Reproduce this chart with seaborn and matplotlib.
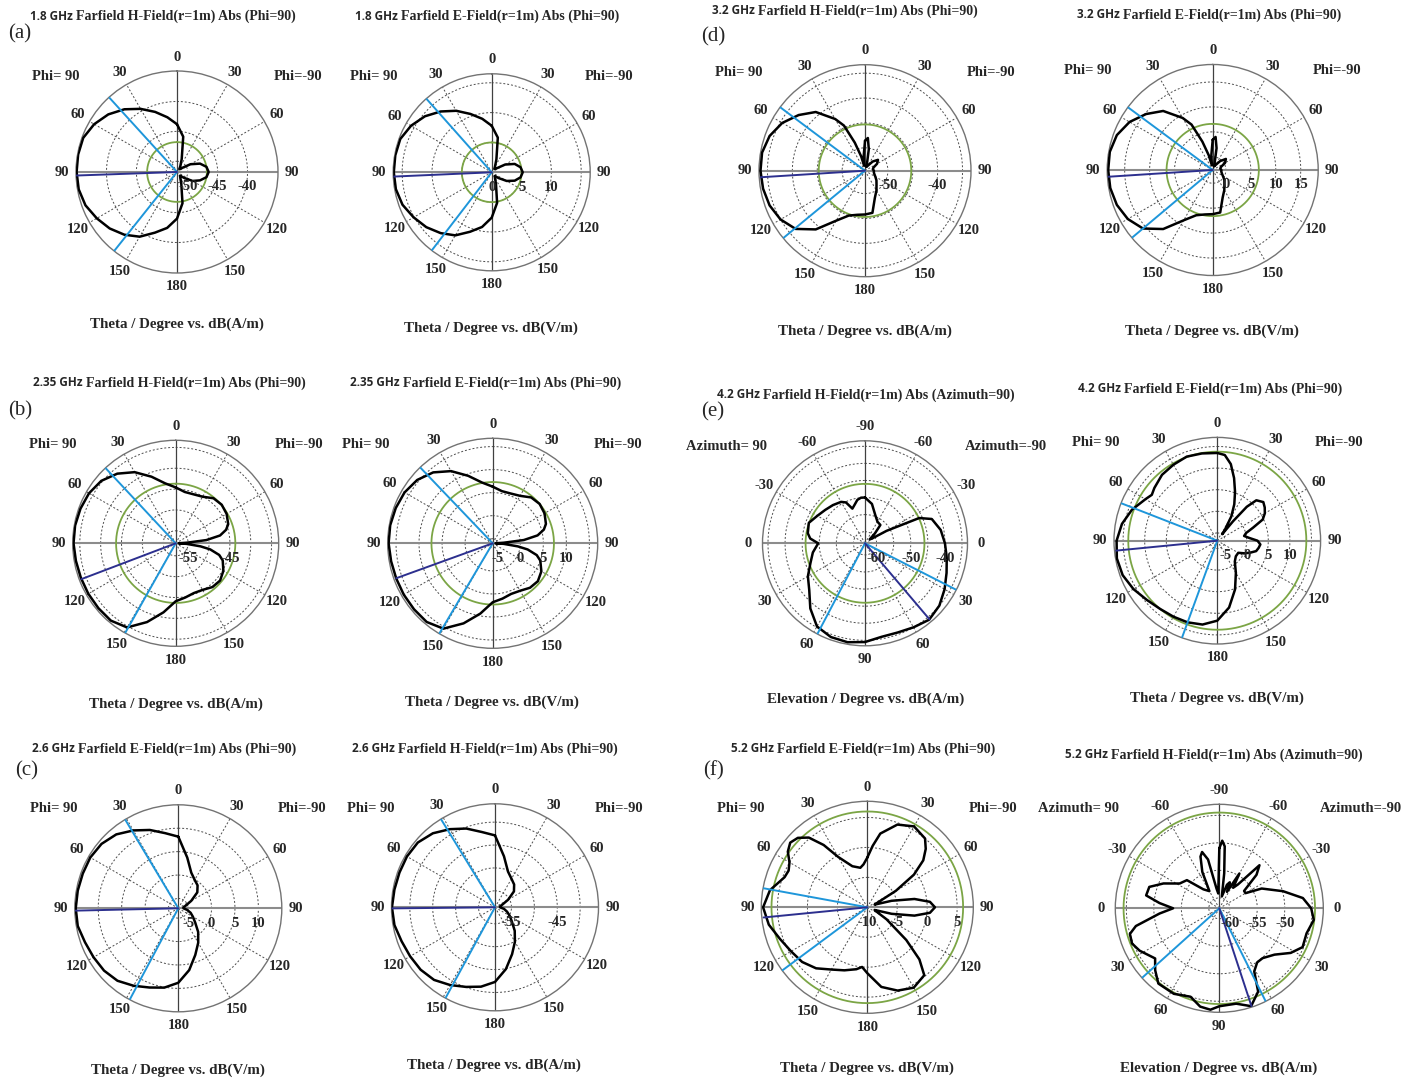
import numpy as np
import seaborn as sns
import pandas as pd
import matplotlib.pyplot as plt
from matplotlib.transforms import ScaledTranslation

sns.set_style("white")
plt.rcParams['font.family'] = ['Liberation Serif', 'DejaVu Serif']

W, H = 1418, 1081
fig = plt.figure(figsize=(W / 100, H / 100), dpi=100)

# ---- angle labels ----
theta_lab = ['0', '30', '60', '90', '120', '150', '180', '150', '120', '90', '60', '30']
elev_lab = ['-90', '-60', '-30', '0', '30', '60', '90', '60', '30', '0', '-30', '-60']

ang10 = list(range(0, 360, 10))

# ---- pattern data (angle clockwise from top in deg, value in dB) ----
db_a_h = [-43.8, -45.8, -49.5, -50.7, -51.2, -50.8, -49.2, -47.7, -46.8, -46.5, -46.8, -47.7,
          -48.8, -50.3, -51.0, -50.7, -49.7, -46.5, -44.0, -42.3, -41.0, -39.3, -38.1, -37.1,
          -36.3, -35.5, -35.1, -35.0, -35.0, -35.1, -35.8, -36.8, -38.1, -39.6, -41.1, -42.5]
db_a_e = [7.8, 5.9, 2.3, 1.1, 0.7, 1.0, 2.6, 4.1, 4.9, 5.2, 4.9, 4.1,
          2.9, 1.5, 0.8, 1.1, 2.1, 5.2, 7.6, 9.3, 10.6, 12.2, 13.3, 14.3,
          15.1, 15.9, 16.3, 16.4, 16.4, 16.3, 15.6, 14.6, 13.3, 11.9, 10.4, 9.1]

ang_b = [0, 10, 20, 30, 40, 50, 60, 70, 75, 80, 84, 87, 90, 93, 97, 100, 105, 110,
         120, 130, 140, 150, 160, 170, 180, 190, 200, 210, 220, 230, 240, 250, 260, 270,
         280, 290, 300, 310, 320, 330, 340, 350]
db_b_h = [-44.6, -45.5, -45.5, -45.1, -43.9, -43.6, -43.9, -44.6, -45.5, -47.2, -50.6, -55.4,
          -57.3, -55.4, -52.0, -49.6, -47.2, -46.0, -44.8, -44.1, -44.3, -45.1, -45.3, -44.8,
          -44.1, -41.2, -37.9, -34.7, -33.8, -33.8, -33.8, -33.8, -33.7, -33.5, -33.5, -33.7,
          -34.0, -34.7, -36.2, -38.3, -41.0, -43.4]
db_b_e = [6.3, 5.5, 5.5, 5.9, 7.0, 7.3, 7.0, 6.3, 5.5, 3.9, 0.8, -3.6,
          -5.4, -3.6, -0.5, 1.7, 3.9, 5.0, 6.2, 6.8, 6.6, 5.9, 5.7, 6.2,
          6.8, 9.5, 12.5, 15.4, 16.3, 16.3, 16.3, 16.3, 16.4, 16.6, 16.6, 16.4,
          16.1, 15.4, 14.1, 12.1, 9.6, 7.4]

db_c_e = [8.2, 3.9, 1.0, -0.1, -0.7, -1.8, -3.9, -5.4, -6.0, -6.0, -5.2, -4.3,
          -3.5, -2.4, -0.5, 1.4, 3.5, 6.3, 8.8, 10.1, 10.9, 12.0, 13.1, 13.6,
          13.8, 14.1, 14.7, 14.8, 14.7, 14.6, 14.6, 14.3, 13.5, 12.1, 10.7, 9.2]
db_c_h = [-42.9, -47.3, -50.3, -51.4, -52.1, -53.2, -55.3, -56.9, -57.5, -57.5, -56.6, -55.8,
          -54.9, -53.8, -51.9, -49.9, -47.7, -44.9, -42.3, -41.0, -40.1, -39.0, -37.9, -37.4,
          -37.2, -36.9, -36.3, -36.1, -36.3, -36.4, -36.4, -36.6, -37.5, -38.9, -40.3, -41.9]

ang_d = [0, 5, 10, 15, 20, 30, 40, 50, 60, 70, 80, 90, 100, 110, 120, 130, 140, 150, 160,
         170, 180, 190, 200, 210, 220, 230, 240, 250, 260, 270, 280, 290, 300, 310, 320, 330,
         335, 340, 345, 350, 355]
db_d_h = [-48.6, -48.0, -50.2, -53.0, -53.8, -53.4, -52.2, -51.2, -51.8, -52.8, -53.0, -52.8,
          -52.8, -52.6, -52.2, -51.6, -51.0, -50.0, -48.8, -46.0, -45.8, -45.6, -45.0, -43.0,
          -39.2, -36.4, -35.0, -34.2, -33.8, -33.6, -33.6, -34.2, -35.4, -37.2, -39.2, -42.6,
          -44.6, -48.6, -51.6, -53.6, -51.6]
db_d_e = [3.4, 4.0, 1.8, -1.1, -1.9, -1.5, -0.3, 0.8, 0.2, -0.9, -1.1, -0.9,
          -0.9, -0.7, -0.3, 0.4, 1.0, 2.0, 3.2, 6.0, 6.2, 6.4, 7.0, 9.0,
          12.8, 15.6, 17.0, 17.8, 18.2, 18.3, 18.3, 17.8, 16.6, 14.8, 12.8, 9.4,
          7.4, 3.4, 0.4, -1.7, 0.4]

ang_e_h = [0, 10, 20, 30, 40, 45, 50, 55, 60, 65, 70, 80, 90, 100, 110, 120, 130, 140, 150,
           160, 170, 180, 190, 200, 210, 220, 230, 240, 250, 260, 270, 275, 280, 290, 300, 310,
           320, 330, 335, 340, 345, 350, 355]
db_e_h = [-50.0, -51.7, -54.6, -56.1, -56.4, -59.3, -61.6, -61.1, -56.1, -45.9, -42.6, -40.9,
          -40.0, -39.1, -38.0, -36.5, -35.0, -34.2, -35.0, -35.6, -35.6, -34.5, -34.0, -34.2,
          -35.3, -38.5, -42.1, -44.1, -46.4, -47.9, -49.7, -47.3, -46.4, -45.9, -47.3, -48.2,
          -48.8, -49.4, -50.2, -52.6, -51.7, -50.5, -50.0]

ang_e_e = [0, 5, 10, 15, 20, 25, 30, 35, 37, 39, 41, 44, 50, 55, 60, 65, 70, 75, 80, 85, 90,
           95, 100, 105, 110, 115, 120, 130, 140, 150, 160, 170, 180, 190, 200, 210, 220, 230,
           240, 250, 260, 270, 280, 290, 300, 305, 310, 320, 330, 340, 350]
db_e_e = [13.5, 13.1, 11.2, 8.2, 5.2, 2.5, -0.3, -3.8, -4.9, -1.0, 3.6, 6.2, 7.1, 6.6, 5.9,
          4.8, 2.0, 0.1, -0.5, 0.6, 2.5, 3.2, 2.9, 2.5, 1.3, 0.1, -1.2, -1.2, -0.5, 1.8, 5.2,
          8.9, 11.7, 12.9, 13.3, 13.5, 13.8, 14.5, 15.6, 16.5, 16.8, 16.5, 15.6, 14.2, 12.4,
          11.7, 12.2, 13.1, 13.5, 13.9, 13.7]

ang_f_e = [0, 5, 10, 20, 30, 40, 45, 50, 55, 60, 65, 70, 75, 80, 85, 90, 95, 100, 105, 110,
           115, 122, 130, 135, 140, 150, 160, 170, 180, 185, 190, 200, 210, 220, 230, 240, 250,
           260, 270, 280, 290, 295, 300, 305, 310, 315, 320, 325, 330, 340, 350, 355]
db_f_e = [-1.7, 0.3, 2.5, 4.7, 5.6, 5.0, 3.8, 2.2, -0.5, -4.5, -8.0, -8.7, -5.8, -2.0, 0.5,
          1.3, 0.5, -2.0, -5.8, -8.7, -8.3, -6.2, -1.5, 2.3, 4.8, 5.5, 4.8, 3.5, 1.0, 0.0,
          0.5, 1.2, 2.0, 3.3, 4.2, 4.7, 5.5, 6.7, 7.4, 6.5, 4.7, 4.5, 5.0, 6.2, 6.8, 6.4,
          5.2, 2.7, -0.3, -2.7, -3.3, -2.8]

ang_f_h = [0, 2.5, 5, 8, 12, 18, 22, 25, 30, 34, 38, 43, 48, 55, 60, 65, 75, 83, 90, 97,
           106, 115, 122, 130, 139, 145, 151, 155, 162, 170, 180, 185, 191, 198, 208, 219,
           226, 232, 242, 248, 254, 258, 265, 270, 275, 280, 287, 294, 302, 311, 320, 330,
           335, 340, 343, 347, 352, 356]
db_f_h = [-51.0, -49.6, -50.6, -55.5, -59.7, -57.4, -56.8, -58.6, -54.6, -57.4, -56.4, -51.2,
          -52.8, -56.4, -56.4, -53.4, -49.9, -46.6, -45.2, -44.6, -45.4, -45.2, -46.6, -48.8,
          -49.9, -49.9, -48.8, -45.2, -43.2, -44.3, -44.1, -43.4, -43.7, -45.0, -44.3, -44.3,
          -45.7, -47.1, -45.5, -44.8, -45.0, -46.4, -51.0, -53.5, -51.0, -48.4, -48.6, -50.8,
          -53.4, -54.1, -57.4, -58.3, -54.6, -51.9, -51.2, -52.8, -58.3, -59.2]

# ---- panel options (scale, markers, layout in pixels) ----
panels = [
    dict(ang=ang10, db=db_a_h, rmin=-51.8, rmax=-34.9, rings=[-50, -45, -40], rlab=[-50, -45, -40],
         green=-46.8, light=[317.7, 218.5], main=(268, -35.0), c=(177, 172, 101), lab=theta_lab,
         ghz='1.8 GHz', title='Farfield H-Field(r=1m) Abs (Phi=90)', tpos=(30, 16),
         xl='Theta / Degree vs. dB(A/m)', xlpos=(177, 324), side=('Phi= 90', 'Phi=-90'),
         spos=((56, 76), (298, 76))),
    dict(ang=ang10, db=db_a_e, rmin=0.0, rmax=16.5, rings=[5, 10, 15], rlab=[0, 5, 10],
         green=5.0, light=[318.4, 217.5], main=(267.5, 16.4), c=(491.7, 172.3, 98.5), lab=theta_lab,
         ghz='1.8 GHz', title='Farfield E-Field(r=1m) Abs (Phi=90)', tpos=(355, 16),
         xl='Theta / Degree vs. dB(V/m)', xlpos=(491, 328), side=('Phi= 90', 'Phi=-90'),
         spos=((374, 76), (609, 76))),
    dict(ang=ang_d, db=db_d_h, rmin=-54.6, rmax=-33.3, rings=[-50, -45, -40, -35], rlab=[-50, -40],
         green=-45.3, light=[306.8, 230.5], main=(266.4, -33.6), c=(865, 170.7, 106), lab=theta_lab,
         ghz='3.2 GHz', title='Farfield H-Field(r=1m) Abs (Phi=90)', tpos=(712, 11),
         xl='Theta / Degree vs. dB(A/m)', xlpos=(865, 331), side=('Phi= 90', 'Phi=-90'),
         spos=((739, 72), (991, 72))),
    dict(ang=ang_d, db=db_d_e, rmin=-2.65, rmax=18.5, rings=[0, 5, 10, 15], rlab=[0, 5, 10, 15],
         green=6.6, light=[306.5, 230.0], main=(266.3, 18.3), c=(1212.7, 170, 105.5), lab=theta_lab,
         ghz='3.2 GHz', title='Farfield E-Field(r=1m) Abs (Phi=90)', tpos=(1077, 15),
         xl='Theta / Degree vs. dB(V/m)', xlpos=(1212, 331), side=('Phi= 90', 'Phi=-90'),
         spos=((1088, 71), (1337, 71))),
    dict(ang=ang_b, db=db_b_h, rmin=-58.0, rmax=-33.3, rings=[-55, -50, -45, -40, -35], rlab=[-55, -45],
         green=-43.7, light=[317.0, 209.4], main=(249.2, -33.8), c=(175.7, 543.3, 103), lab=theta_lab,
         ghz='2.35 GHz', title='Farfield H-Field(r=1m) Abs (Phi=90)', tpos=(33, 383),
         xl='Theta / Degree vs. dB(A/m)', xlpos=(176, 704), side=('Phi= 90', 'Phi=-90'),
         spos=((53, 445), (299, 445))),
    dict(ang=ang_b, db=db_b_e, rmin=-6.0, rmax=16.8, rings=[-5, 0, 5, 10, 15], rlab=[-5, 0, 5, 10],
         green=7.3, light=[316.3, 210.6], main=(250.1, 16.3), c=(492.7, 543.3, 105), lab=theta_lab,
         ghz='2.35 GHz', title='Farfield E-Field(r=1m) Abs (Phi=90)', tpos=(350, 383),
         xl='Theta / Degree vs. dB(V/m)', xlpos=(492, 702), side=('Phi= 90', 'Phi=-90'),
         spos=((366, 445), (618, 445))),
    dict(ang=ang_e_h, db=db_e_h, rmin=-63.4, rmax=-33.4, rings=[-60, -55, -50, -45, -40, -35],
         rlab=[-60, -50, -40], green=-46.0, light=[117.0, 207.7], main=(139.7, -34.2),
         c=(865, 543.3, 102.5), lab=elev_lab,
         ghz='4.2 GHz', title='Farfield H-Field(r=1m) Abs (Azimuth=90)', tpos=(717, 395),
         xl='Elevation / Degree vs. dB(A/m)', xlpos=(866, 699), side=('Azimuth= 90', 'Azimuth=-90'),
         spos=((726, 447), (1006, 447))),
    dict(ang=ang_e_e, db=db_e_e, rmin=-6.8, rmax=17.1, rings=[-5, 0, 5, 10, 15], rlab=[-5, 0, 5, 10],
         green=13.8, light=[291.3, 200.0], main=(264.4, 16.7), c=(1217.3, 540.7, 103.3), lab=theta_lab,
         ghz='4.2 GHz', title='Farfield E-Field(r=1m) Abs (Phi=90)', tpos=(1078, 389),
         xl='Theta / Degree vs. dB(V/m)', xlpos=(1217, 698), side=('Phi= 90', 'Phi=-90'),
         spos=((1096, 443), (1339, 443))),
    dict(ang=ang10, db=db_c_e, rmin=-7.1, rmax=15.0, rings=[-5, 0, 5, 10], rlab=[-5, 0, 5, 10],
         green=None, light=[329.1, 208.0], main=(268.7, 14.8), c=(178.3, 908.3, 103.5), lab=theta_lab,
         ghz='2.6 GHz', title='Farfield E-Field(r=1m) Abs (Phi=90)', tpos=(32, 749),
         xl='Theta / Degree vs. dB(V/m)', xlpos=(178, 1070), side=('Phi= 90', 'Phi=-90'),
         spos=((54, 808), (302, 808))),
    dict(ang=ang10, db=db_c_h, rmin=-58.6, rmax=-36.0, rings=[-55, -50, -45, -40], rlab=[-55, -45],
         green=None, light=[328.5, 208.6], main=(269.4, -36.1), c=(495, 907.3, 103.5), lab=theta_lab,
         ghz='2.6 GHz', title='Farfield H-Field(r=1m) Abs (Phi=90)', tpos=(352, 749),
         xl='Theta / Degree vs. dB(A/m)', xlpos=(494, 1065), side=('Phi= 90', 'Phi=-90'),
         spos=((371, 809), (619, 809))),
    dict(ang=ang_f_e, db=db_f_e, rmin=-10.0, rmax=7.7, rings=[-5, 0, 5], rlab=[-10, -5, 0, 5],
         green=6.0, light=[280.4, 233.4], main=(264.4, 7.4), c=(867.3, 907.3, 106), lab=theta_lab,
         ghz='5.2 GHz', title='Farfield E-Field(r=1m) Abs (Phi=90)', tpos=(731, 749),
         xl='Theta / Degree vs. dB(V/m)', xlpos=(867, 1068), side=('Phi= 90', 'Phi=-90'),
         spos=((741, 808), (993, 808))),
    dict(ang=ang_f_h, db=db_f_h, rmin=-61.9, rmax=-43.0, rings=[-60, -55, -50, -45], rlab=[-60, -55, -50],
         green=-44.5, light=[228.0, 153.5], main=(161.8, -43.2), c=(1219.3, 908.3, 104), lab=elev_lab,
         ghz='5.2 GHz', title='Farfield H-Field(r=1m) Abs (Azimuth=90)', tpos=(1065, 755),
         xl='Elevation / Degree vs. dB(A/m)', xlpos=(1219, 1068), side=('Azimuth= 90', 'Azimuth=-90'),
         spos=((1078, 809), (1361, 809))),
]

letters = [('(a)', 20, 34), ('(b)', 20, 411), ('(c)', 27, 771),
           ('(d)', 713, 37), ('(e)', 713, 412), ('(f)', 713, 771)]


def fx(x):
    return x / W


def fy(y):
    return 1 - y / H


full = np.linspace(0, 2 * np.pi, 721)
dash = (0, (2.0, 2.0))

for p in panels:
    cx, cy, R = p['c']
    ax = fig.add_axes([fx(cx - R), fy(cy + R), 2 * R / W, 2 * R / H], projection='polar')
    ax.set_theta_zero_location('N')
    ax.set_theta_direction(-1)
    ax.set_ylim(p['rmin'], p['rmax'])
    ax.grid(False)
    ax.set_yticks([])
    ax.set_xticks(np.deg2rad(np.arange(0, 360, 30)))
    ax.set_xticklabels(p['lab'], fontweight='bold', fontsize=10.5)
    ax.tick_params(axis='x', pad=3, length=0)
    ax.spines['polar'].set_edgecolor('0.45')
    ax.spines['polar'].set_linewidth(1.0)
    ax.set_facecolor('white')

    r0, r1 = p['rmin'], p['rmax']
    for v in p['rings']:
        ax.plot(full, np.full_like(full, v), ls=dash, color='0.3', lw=0.7, zorder=1)
    for a in [30, 60, 120, 150, 210, 240, 300, 330]:
        ax.plot([np.deg2rad(a)] * 2, [r0, r1], ls=dash, color='0.3', lw=0.7, zorder=1)
    for a in [0, 180]:
        ax.plot([np.deg2rad(a)] * 2, [r0, r1], color='0.25', lw=0.9, zorder=1)
    for a in [90, 270]:
        ax.plot([np.deg2rad(a)] * 2, [r0, r1], color='0.55', lw=1.5, zorder=1)

    if p['green'] is not None:
        ax.plot(full, np.full_like(full, p['green']), color='#7BA545', lw=1.3, zorder=2)

    df = pd.DataFrame({'th': np.deg2rad(list(p['ang']) + [p['ang'][0] + 360]),
                       'db': list(p['db']) + [p['db'][0]]})
    sns.lineplot(data=df, x='th', y='db', ax=ax, sort=False, estimator=None,
                 color='black', lw=1.8, zorder=3)
    ax.set_xlabel('')
    ax.set_ylabel('')

    for a in p['light']:
        ax.plot([np.deg2rad(a)] * 2, [r0, r1], color='#1E96DA', lw=1.4, zorder=4)
    ma, mv = p['main']
    ax.plot([np.deg2rad(ma)] * 2, [r0, mv], color='#2C2F8E', lw=1.4, zorder=4)

    off = ax.transData + ScaledTranslation(0, -0.15, fig.dpi_scale_trans)
    for v in p['rlab']:
        ax.text(np.pi / 2, v, f'{v:g}', transform=off, ha='center', va='center',
                fontsize=10.5, fontweight='bold', zorder=5)

    # titles: frequency part in a sans face, rest in serif
    t1 = fig.text(fx(p['tpos'][0]), fy(p['tpos'][1]), p['ghz'], ha='left', va='center',
                  family=['Open Sans', 'DejaVu Sans'], fontweight='bold', fontsize=8.5)
    ax.annotate(p['title'], xy=(1, 0.5), xycoords=t1, xytext=(2.5, 0), textcoords='offset points',
                ha='left', va='center', fontweight='bold', fontsize=10, annotation_clip=False)

    fig.text(fx(p['xlpos'][0]), fy(p['xlpos'][1]), p['xl'], ha='center', va='center',
             fontweight='bold', fontsize=10.8)
    (lx, ly), (rx, ry) = p['spos']
    fig.text(fx(lx), fy(ly), p['side'][0], ha='center', va='center', fontweight='bold', fontsize=10.5)
    fig.text(fx(rx), fy(ry), p['side'][1], ha='center', va='center', fontweight='bold', fontsize=10.5)

for s, x, y in letters:
    fig.text(fx(x), fy(y), s, ha='center', va='center', fontsize=15)

fig.savefig('out.png', dpi=100, facecolor='white')
